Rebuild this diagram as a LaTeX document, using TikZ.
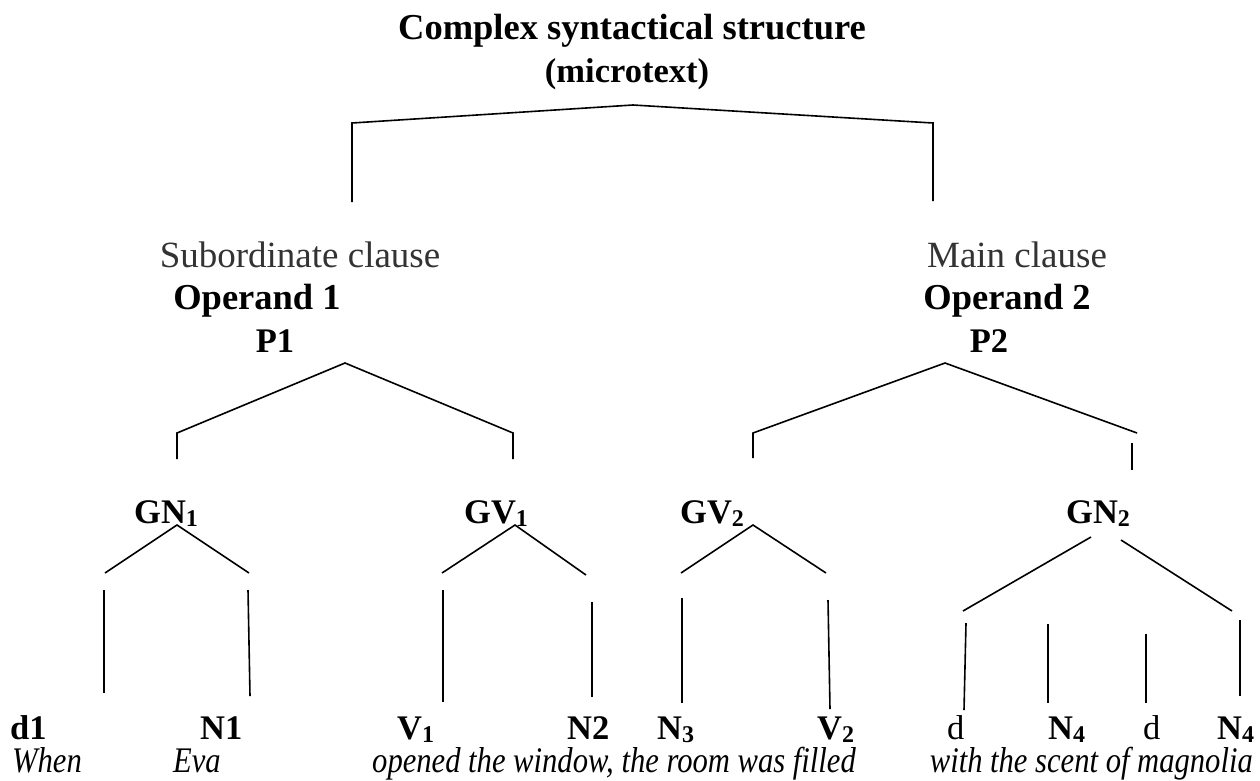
\documentclass[tikz,border=0pt]{standalone}
\usepackage{graphicx}
\usepackage{fontspec}
\setmainfont{Liberation Serif}
\newfontfamily\tallfont{Liberation Serif}[FakeStretch=0.85]
\usepackage{tikz}
\usetikzlibrary{positioning}
\definecolor{clausegray}{HTML}{333333}
\tikzset{
    word/.style = {font=\fontsize{34.5}{40}\selectfont, inner sep=0pt, anchor=base},
    unit/.style = {word, font=\fontsize{34.5}{40}\selectfont\bfseries},
    head/.style = {word, font=\fontsize{36.5}{42}\selectfont\bfseries},
    clause/.style = {word, font=\fontsize{37}{42}\selectfont, text=clausegray},
    gloss/.style = {word, font=\tallfont\fontsize{36}{40}\selectfont\itshape},
    branch/.style = {line width=1.6pt}
}
\newcommand{\sub}[1]{\raisebox{-0.09em}{\fontsize{24}{24}\selectfont #1}}

\begin{document}
\begin{tikzpicture}[x=1pt, y=-1pt]
	\useasboundingbox (0,0) rectangle (1260,780);
	% top level
	\node (cs) [head] at (632,39) {Complex syntactical structure};
	\node (micro) [unit] at (627,82) {(microtext)};
	\coordinate (topA) at (633,105);
	\coordinate (topL) at (352,123);
	\coordinate (topR) at (933,123);
	\draw [branch] (352,202) -- (topL) -- (topA) -- (topR) -- (933,201);
	% operands
	\node (subcl) [clause] at (300,267) {Subordinate clause};
	\node (op1) [head] at (257,309) {Operand 1};
	\node (p1) [unit] at (275,352) {P1};
	\node (maincl) [clause] at (1017,267) {Main clause};
	\node (op2) [head] at (1007,309) {Operand 2};
	\node (p2) [unit] at (989,352) {P2};
	\draw [branch] (177,459) -- (177,433) -- (345,363) -- (513,433) -- (513,459);
	\draw [branch] (753,458) -- (753,433) -- (945,363) -- (1137,433);
	\draw [branch] (1132,443) -- (1132,470);
	% groups
	\node (gn1) [unit, anchor=base west] at (134,523) {GN\sub{1}};
	\node (gv1) [unit, anchor=base west] at (464,523) {GV\sub{1}};
	\node (gv2) [unit, anchor=base west] at (680,523) {GV\sub{2}};
	\node (gn2) [unit, anchor=base west] at (1066,523) {GN\sub{2}};
	\draw [branch] (105,573) -- (177,525) -- (249,573);
	\draw [branch] (442,573) -- (515,525) -- (586,575);
	\draw [branch] (681,573) -- (753,525) -- (826,573);
	\draw [branch] (1091,537) -- (963,611);
	\draw [branch] (1121,540) -- (1232,611);
	% terminals
	\draw [branch] (104,590) -- (104,693);
	\draw [branch] (248,590) -- (250,696);
	\draw [branch] (443,590) -- (443,702);
	\draw [branch] (592,602) -- (592,697);
	\draw [branch] (682,598) -- (682,703);
	\draw [branch] (828,600) -- (830,709);
	\draw [branch] (966,623) -- (964,710);
	\draw [branch] (1048,624) -- (1048,703);
	\draw [branch] (1146,634) -- (1146,703);
	\draw [branch] (1240,620) -- (1240,696);
	\node (d1) [unit, anchor=base west] at (10,739) {d1};
	\node (n1) [unit, anchor=base west] at (200,739) {N1};
	\node (v1) [unit, anchor=base west] at (397,739) {V\sub{1}};
	\node (n2) [unit, anchor=base west] at (567,739) {N2};
	\node (n3) [unit, anchor=base west] at (657,739) {N\sub{3}};
	\node (v2) [unit, anchor=base west] at (817,739) {V\sub{2}};
	\node (da) [word, anchor=base west] at (947,739) {d};
	\node (n4a) [unit, anchor=base west] at (1048,739) {N\sub{4}};
	\node (db) [word, anchor=base west] at (1143,739) {d};
	\node (n4b) [unit, anchor=base west] at (1217,739) {N\sub{4}};
	% sentence
	\node (when) [gloss, anchor=base west] at (12,772) {When};
	\node (eva) [gloss, anchor=base west] at (173,772) {Eva};
	\node (opened) [gloss, anchor=base west] at (372,772) {opened the window, the room was filled};
	\node (scent) [gloss, anchor=base east] at (1253,772) {with the scent of magnolia};
\end{tikzpicture}
\end{document}
